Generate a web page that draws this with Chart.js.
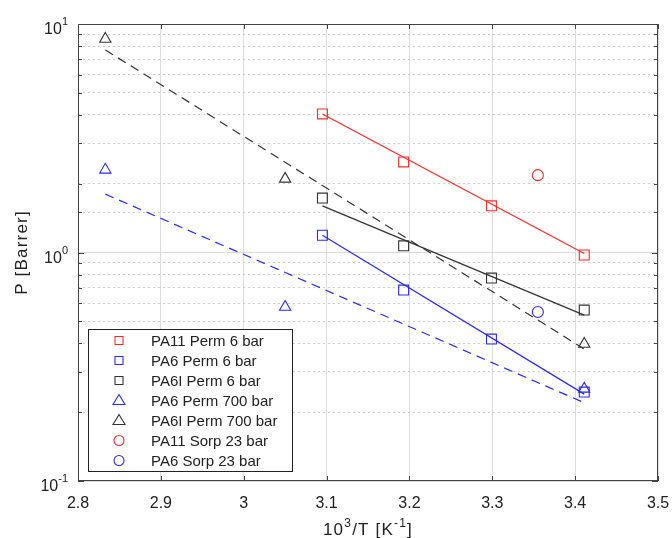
<!DOCTYPE html>
<html>
<head>
<meta charset="utf-8">
<script src="https://cdn.jsdelivr.net/npm/chart.js@4.4.1/dist/chart.umd.min.js"></script>
<style>
  html, body { margin: 0; padding: 0; background: #fff; }
  #wrap { width: 672px; height: 538px; }
</style>
</head>
<body>
<div id="wrap"><canvas id="chart"></canvas></div>
<script>
// axis ticks
const xTicks = [2.8, 2.9, 3.0, 3.1, 3.2, 3.3, 3.4, 3.5];
const yDecades = [0.1, 1, 10];
const yDecadeExp = ['-1', '0', '1'];

// measured points (x = 10^3/T)
const tPerm = [3.095, 3.193, 3.299, 3.411];
const pa11Perm6 = [4.04, 2.49, 1.60, 0.975];
const pa6Perm6 = [1.19, 0.685, 0.418, 0.245];
const pa6iPerm6 = [1.73, 1.07, 0.773, 0.56];
const tHigh = [2.833, 3.05, 3.411];
const pa6Perm700 = [2.30, 0.577, 0.253];
const pa6iPerm700 = [8.6, 2.10, 0.398];
const tSorp = [3.355];
const pa11Sorp23 = [2.18];
const pa6Sorp23 = [0.549];

// fitted lines, end points
const fitPermX = [3.095, 3.411];
const fitPa11 = [4.04, 0.99];
const fitPa6 = [1.19, 0.24];
const fitPa6i = [1.60, 0.532];
const fitHighX = [2.833, 3.411];
const fitPa6High = [1.80, 0.22];
const fitPa6iHigh = [7.7, 0.378];

const RED = '#ff2a2a', BLUE = '#2a2aff', BLACK = '#333333';
const FONT = '"Liberation Sans", Arial, sans-serif';

const pts = (xs, ys) => xs.map((x, i) => ({ x: x, y: ys[i] }));

function markers(label, xs, ys, color, style, r) {
    return {
        label: label, data: pts(xs, ys), showLine: false,
        pointStyle: style, pointRadius: r, pointHoverRadius: r,
        pointBorderWidth: 1.1, borderColor: color, backgroundColor: 'rgba(0,0,0,0)'
    };
}
function fit(xs, ys, color, dash) {
    return {
        label: '', data: pts(xs, ys), showLine: true, pointRadius: 0,
        borderColor: color, borderWidth: 1.2, borderDash: dash, fill: false, isFit: true
    };
}

const isDecade = v => Math.abs(Math.log10(v) - Math.round(Math.log10(v))) < 1e-6;

// text with superscripts: parts = [[text, isSup], ...]
function richWidth(ctx, parts, size, supSize) {
    let w = 0;
    parts.forEach(p => {
        ctx.font = (p[1] ? supSize : size) + 'px ' + FONT;
        w += ctx.measureText(p[0]).width;
    });
    return w;
}
function drawRich(ctx, parts, x, y, size, supSize, rise) {
    ctx.textAlign = 'left';
    ctx.textBaseline = 'alphabetic';
    parts.forEach(p => {
        ctx.font = (p[1] ? supSize : size) + 'px ' + FONT;
        ctx.fillText(p[0], x, p[1] ? y - rise : y);
        x += ctx.measureText(p[0]).width;
    });
}

// frame, inward ticks, labels with superscripts, boxed legend
const framePlugin = {
    id: 'frame',
    afterDatasetsDraw(chart) {
        const { ctx, chartArea: a, scales } = chart;
        ctx.save();
        ctx.strokeStyle = '#444';
        ctx.lineWidth = 1;
        ctx.strokeRect(a.left + 0.5, a.top + 0.5, a.right - a.left - 1, a.bottom - a.top - 1);
        ctx.beginPath();
        xTicks.forEach(v => {
            const x = Math.round(scales.x.getPixelForValue(v)) + 0.5;
            ctx.moveTo(x, a.top); ctx.lineTo(x, a.top + 5);
            ctx.moveTo(x, a.bottom); ctx.lineTo(x, a.bottom - 5);
        });
        scales.y.ticks.forEach(t => {
            const y = Math.round(scales.y.getPixelForValue(t.value)) + 0.5;
            const len = isDecade(t.value) ? 6 : 4;
            ctx.moveTo(a.left, y); ctx.lineTo(a.left + len, y);
            ctx.moveTo(a.right, y); ctx.lineTo(a.right - len, y);
        });
        ctx.stroke();

        ctx.fillStyle = '#222';
        // y tick labels 10^n
        yDecades.forEach((v, i) => {
            const y = scales.y.getPixelForValue(v);
            const parts = [['10', false], [yDecadeExp[i], true]];
            const w = richWidth(ctx, parts, 16, 11);
            drawRich(ctx, parts, a.left - 10 - w, y + 10, 16, 11, 9);
        });
        // x title
        ctx.letterSpacing = '1.2px';
        const xt = [['10', false], ['3', true], ['/T [K', false], ['-1', true], [']', false]];
        const xw = richWidth(ctx, xt, 17, 12);
        drawRich(ctx, xt, (a.left + a.right) / 2 - xw / 2, 535, 17, 12, 8);
        // y title
        ctx.save();
        ctx.translate(27, (a.top + a.bottom) / 2);
        ctx.rotate(-Math.PI / 2);
        ctx.font = '17px ' + FONT;
        ctx.textAlign = 'center';
        ctx.fillText('P [Barrer]', 0, 0);
        ctx.restore();
        ctx.letterSpacing = '0px';

        // legend
        const items = chart.data.datasets.filter(d => !d.isFit);
        const bx = 88.5, by = 329.5, bw = 204, bh = 142, rowH = 20;
        ctx.fillStyle = '#fff';
        ctx.fillRect(bx, by, bw, bh);
        ctx.strokeStyle = '#222';
        ctx.strokeRect(bx, by, bw, bh);
        ctx.font = '15px ' + FONT;
        ctx.textAlign = 'left';
        ctx.textBaseline = 'middle';
        items.forEach((d, i) => {
            const cy = by + 11 + i * rowH, cx = 119;
            ctx.strokeStyle = d.borderColor;
            ctx.lineWidth = 1.1;
            ctx.beginPath();
            if (d.pointStyle === 'rect') {
                ctx.rect(cx - 4, cy - 4, 8, 8);
            } else if (d.pointStyle === 'triangle') {
                ctx.moveTo(cx, cy - 6); ctx.lineTo(cx + 6, cy + 4); ctx.lineTo(cx - 6, cy + 4); ctx.closePath();
            } else {
                ctx.arc(cx, cy, 5, 0, Math.PI * 2);
            }
            ctx.stroke();
            ctx.fillStyle = '#222';
            ctx.fillText(d.label, 151, cy + 1);
        });
        ctx.restore();
    }
};

new Chart(document.getElementById('chart'), {
    type: 'scatter',
    data: {
        datasets: [
            fit(fitPermX, fitPa11, RED, []),
            fit(fitPermX, fitPa6, BLUE, []),
            fit(fitPermX, fitPa6i, BLACK, []),
            fit(fitHighX, fitPa6High, BLUE, [9, 6]),
            fit(fitHighX, fitPa6iHigh, BLACK, [9, 6]),
            markers('PA11 Perm 6 bar', tPerm, pa11Perm6, RED, 'rect', 7),
            markers('PA6 Perm 6 bar', tPerm, pa6Perm6, BLUE, 'rect', 7),
            markers('PA6I Perm 6 bar', tPerm, pa6iPerm6, BLACK, 'rect', 7),
            markers('PA6 Perm 700 bar', tHigh, pa6Perm700, BLUE, 'triangle', 6.5),
            markers('PA6I Perm 700 bar', tHigh, pa6iPerm700, BLACK, 'triangle', 6.5),
            markers('PA11 Sorp 23 bar', tSorp, pa11Sorp23, RED, 'circle', 5.5),
            markers('PA6 Sorp 23 bar', tSorp, pa6Sorp23, BLUE, 'circle', 5.5)
        ]
    },
    options: {
        responsive: true,
        maintainAspectRatio: false,
        animation: false,
        layout: { padding: { top: 24, right: 14, left: 0, bottom: 0 } },
        plugins: { legend: { display: false }, tooltip: { enabled: false } },
        scales: {
            x: {
                type: 'linear', min: 2.8, max: 3.5,
                afterBuildTicks: s => { s.ticks = xTicks.map(v => ({ value: v })); },
                afterFit: s => { s.height = 57; },
                // invisible tick marks push labels down without adding side padding
                grid: { color: '#dcdcdc', lineWidth: 1, drawTicks: true, tickLength: 13, tickColor: 'rgba(0,0,0,0)' },
                border: { display: false },
                ticks: {
                    padding: 0, color: '#222', font: { family: FONT, size: 16 },
                    callback: v => String(parseFloat(Number(v).toFixed(1)))
                }
            },
            y: {
                type: 'logarithmic', min: 0.1, max: 10,
                afterFit: s => { s.width = 78; },
                grid: {
                    drawTicks: false, lineWidth: 1,
                    color: c => (c.tick && isDecade(c.tick.value)) ? '#dcdcdc' : '#cfcfcf'
                },
                border: {
                    display: false,
                    dash: c => (c.tick && isDecade(c.tick.value)) ? [] : [2, 3]
                },
                ticks: { autoSkip: false, callback: () => '' }
            }
        }
    },
    plugins: [framePlugin]
});
</script>
</body>
</html>
